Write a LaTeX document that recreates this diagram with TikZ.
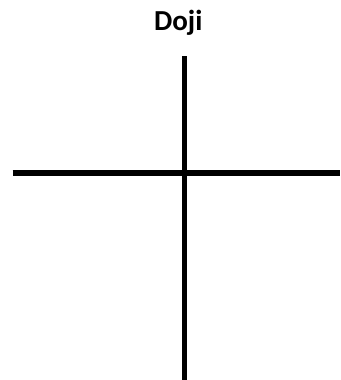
\documentclass[tikz,border=0pt]{standalone}
\usepackage{fontspec}
\setmainfont{Carlito}
\begin{document}
\begin{tikzpicture}[x=1pt,y=-1pt,
  stick/.style={line width=5.6pt, black},
  title/.style={font=\bfseries\fontsize{29}{34}\selectfont, anchor=base, inner sep=0pt}]
\useasboundingbox (0,0) rectangle (340,380);
\node[title] (t) at (178.3,30) {Doji};
\coordinate (vt) at (184.5,56);
\coordinate (vb) at (184.5,380);
\coordinate (hl) at (12.5,173);
\coordinate (hr) at (340,173);
\draw[stick] (vt) -- (vb);
\draw[stick] (hl) -- (hr);
\end{tikzpicture}
\end{document}
